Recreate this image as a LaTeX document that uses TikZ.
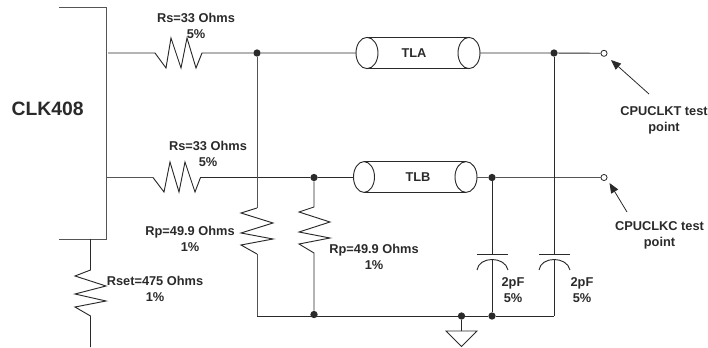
\documentclass[tikz,border=0pt]{standalone}
\usepackage{fontspec}
\setmainfont{Liberation Sans}
\definecolor{ink}{HTML}{2A2A2A}
\definecolor{wiregray}{HTML}{555555}
\tikzset{
  wire/.style={draw=ink,line width=0.7pt,line join=miter},
  graywire/.style={draw=wiregray,line width=0.7pt,line join=miter},
  lbl/.style={font=\fontsize{9.6}{12}\selectfont\bfseries,text=ink,align=center,inner sep=0pt},
  dotnode/.style={circle,fill=ink,draw=none,minimum size=5.5pt,inner sep=0pt},
  testpt/.style={circle,fill=white,draw=ink,line width=0.6pt,minimum size=4.6pt,inner sep=0pt},
  cyl/.style={font=\fontsize{9.6}{12}\selectfont\bfseries,text=ink,inner sep=0pt},
  leader/.style={draw=ink,line width=0.6pt,-{Triangle[length=7.5pt,width=6pt]}},
}
\usetikzlibrary{arrows.meta}
\begin{document}
\begin{tikzpicture}[x=0.75pt,y=-0.75pt]
\useasboundingbox (0,0) rectangle (708,347);
% coordinates
\coordinate (ictl) at (59,7.5);
\coordinate (ictr) at (106,7.5);
\coordinate (icbr) at (106,239);
\coordinate (icbl) at (59,239);
\coordinate (pinA) at (108,53);
\coordinate (pinB) at (106,177.5);
\coordinate (rAa) at (155,53);
\coordinate (rAb) at (202,53);
\coordinate (rBa) at (153,177.5);
\coordinate (rBb) at (200.5,177.5);
\node[dotnode] (jA) at (257,53) {};
\node[dotnode] (jB) at (314,177.5) {};
\node[dotnode] (jC) at (554,53) {};
\node[dotnode] (jD) at (492,177.5) {};
\node[dotnode] (jE) at (314,314.5) {};
\node[dotnode] (jF) at (461.5,316) {};
\node[dotnode] (jG) at (492,316) {};
\node[testpt] (tpA) at (604,53.3) {};
\node[testpt] (tpB) at (604,177.5) {};
\coordinate (cornerL) at (257,316);
\coordinate (cornerR) at (554,316);
% cylinders
\coordinate (tlaL) at (356,53);
\coordinate (tlaR) at (480,53);
\coordinate (tlbL) at (353.5,177.5);
\coordinate (tlbR) at (477,177.5);
\draw[wire] (367,37.5) -- (469,37.5) (367,68.7) -- (469,68.7);
\draw[wire] (367,53) ellipse [x radius=11,y radius=15.6];
\draw[wire] (469,53) ellipse [x radius=11,y radius=15.6];
\draw[wire] (364,161.5) -- (466,161.5) (364,192.3) -- (466,192.3);
\draw[wire] (364,177) ellipse [x radius=10.5,y radius=15.4];
\draw[wire] (466,177) ellipse [x radius=11,y radius=15.4];
\node[cyl] (tla) at (414,53) {TLA};
\node[cyl] (tlb) at (418,177) {TLB};
% IC
\draw[graywire] (ictl) -- (ictr) -- (icbr) -- (icbl);
% trace A
\draw[wire] (pinA) -- (rAa) -- (166,68) -- (171,38) -- (181,68) -- (187,38) -- (196,68) -- (rAb) -- (jA) -- (tlaL);
\draw[wire] (tlaR) -- (jC) -- (tpA);
% trace B
\draw[graywire] (pinB) -- (rBa);
\draw[wire] (rBa) -- (164,192) -- (170,162) -- (179,192) -- (185,162) -- (195,192) -- (rBb) -- (jB) -- (tlbL);
\draw[graywire] (tlbR) -- (jD) -- (tpB);
% Rp resistors
\draw[graywire] (jA) -- (257,208);
\draw[wire] (257,208) -- (241,213) -- (273,223) -- (241,233) -- (273,239) -- (241,245) -- (257,254);
\draw[graywire] (257,254) -- (cornerL);
\draw[wire] (jB) -- (314,207) -- (299,212) -- (330,222) -- (299,232) -- (330,238) -- (299,244) -- (314,253) -- (jE);
% bottom rail
\draw[wire] (cornerL) -- (jF) -- (jG) -- (cornerR);
% capacitors
\draw[wire] (jD) -- (492,254) (477,254) -- (508,254);
\draw[wire] (477,270) .. controls (479,256) and (505,256) .. (508,270);
\draw[wire] (492,260) -- (jG);
\draw[wire] (jC) -- (554,254) (539,254) -- (570,254);
\draw[wire] (539,270) .. controls (541,256) and (567,256) .. (570,270);
\draw[wire] (554,260) -- (cornerR);
% ground
\draw[wire] (jF) -- (461.5,331);
\draw[wire] (446,331) -- (477,331) -- (461.5,346.5) -- cycle;
% Rset
\draw[wire] (90.5,239) -- (90.5,270) -- (75,276) -- (106,286) -- (75,294) -- (106,301) -- (75,307) -- (90.5,316) -- (90.5,347);
% leaders
\coordinate (ldA) at (649,94);
\coordinate (ldB) at (627,212);
\draw[leader] (ldA) -- (611,60);
\draw[leader] (ldB) -- (609.5,183);
% labels
\node[inner sep=0pt,font=\fontsize{14.5}{16}\selectfont\bfseries,text=ink] (clk) at (47.7,109) {CLK408};
\node[lbl] (lrsa) at (196,26) {Rs=33 Ohms\\5\%};
\node[lbl] (lrsb) at (208,154) {Rs=33 Ohms\\5\%};
\node[lbl] (lrpa) at (190,239) {Rp=49.9 Ohms\\1\%};
\node[lbl] (lrpb) at (374,256.5) {Rp=49.9 Ohms\\1\%};
\node[lbl] (lrset) at (155,289) {Rset=475 Ohms\\1\%};
\node[lbl] (lca) at (513,290) {2pF\\5\%};
\node[lbl] (lcb) at (582,290) {2pF\\5\%};
\node[lbl] (ltpa) at (664,120) {CPUCLKT test\\point};
\node[lbl] (ltpb) at (659.5,235) {CPUCLKC test\\point};
\end{tikzpicture}
\end{document}
